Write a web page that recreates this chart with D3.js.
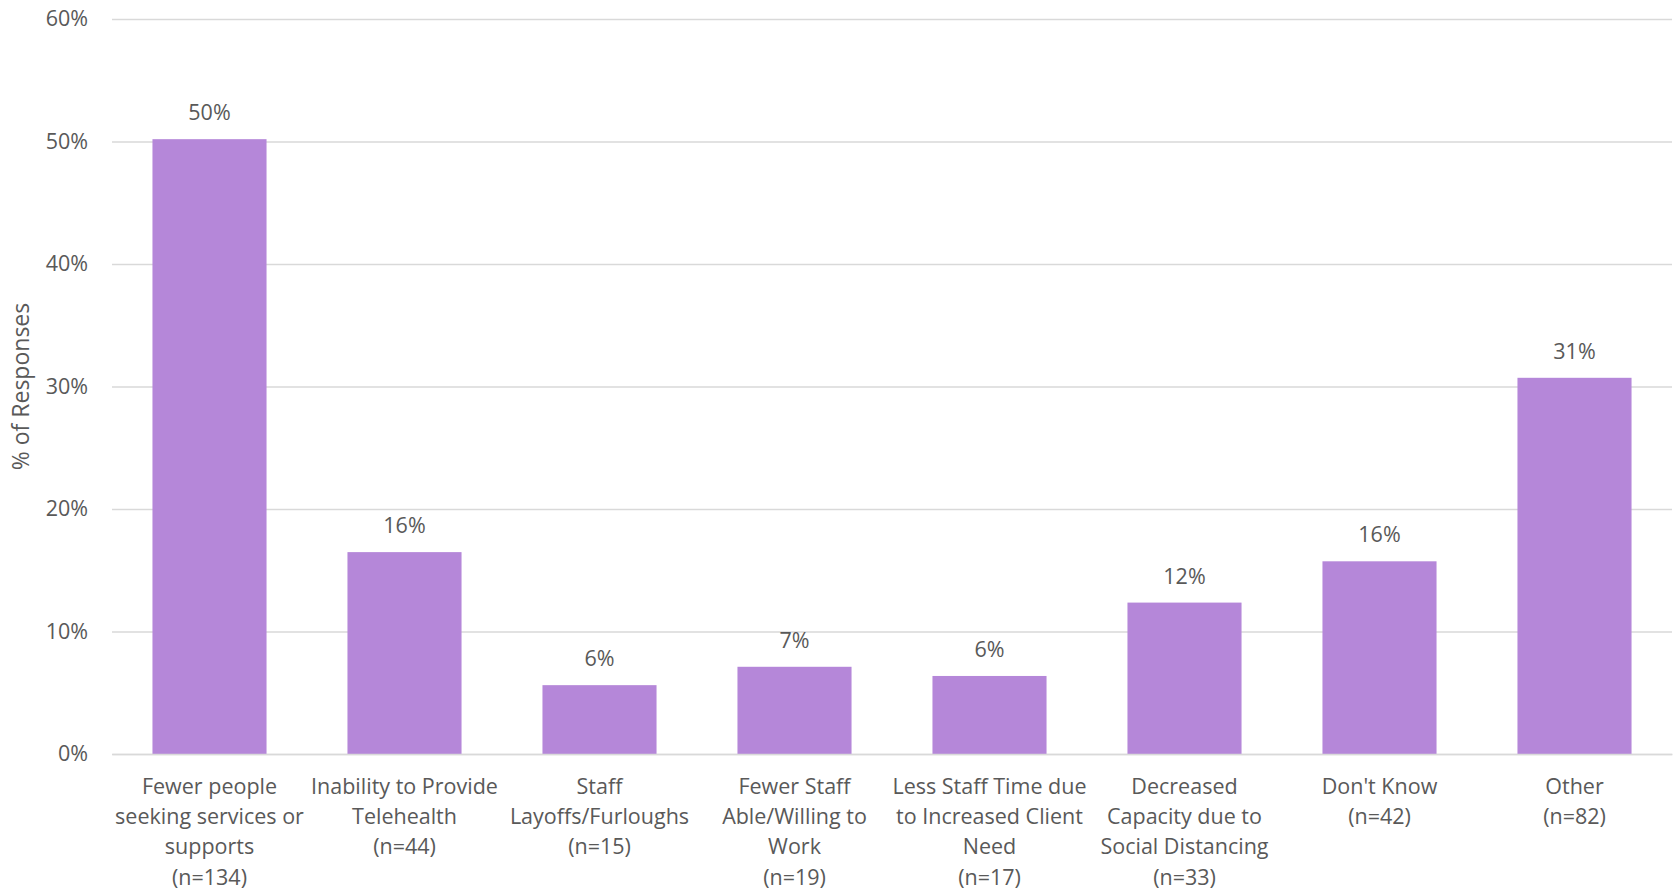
<!DOCTYPE html>
<html>
<head>
<meta charset="utf-8">
<script src="https://cdn.jsdelivr.net/npm/d3@7"></script>
<style>
  html, body { margin: 0; padding: 0; background: #fff; }
  svg text { font-family: "Open Sans", Lato, sans-serif; fill: #595959; }
</style>
</head>
<body>
<svg id="chart" width="1675" height="891"></svg>
<script>
// Reasons given for reduced service volume, share of all responses
const categories = [
  ["Fewer people", "seeking services or", "supports", "(n=134)"],
  ["Inability to Provide", "Telehealth", "(n=44)"],
  ["Staff", "Layoffs/Furloughs", "(n=15)"],
  ["Fewer Staff", "Able/Willing to", "Work", "(n=19)"],
  ["Less Staff Time due", "to Increased Client", "Need", "(n=17)"],
  ["Decreased", "Capacity due to", "Social Distancing", "(n=33)"],
  ["Don't Know", "(n=42)"],
  ["Other", "(n=82)"]
];
const values = [0.5019, 0.1648, 0.0562, 0.0712, 0.0637, 0.1236, 0.1573, 0.3071];
const yTicks = [0, 0.1, 0.2, 0.3, 0.4, 0.5, 0.6];

const svg = d3.select("#chart");
const margin = { left: 112, right: 3, top: 19, bottom: 137 };
const width = 1675, height = 891;
const fontSize = 21.5;

const x = d3.scaleBand()
  .domain(d3.range(categories.length))
  .range([margin.left, width - margin.right])
  .paddingInner(0.415)
  .paddingOuter(0.2075);

const y = d3.scaleLinear()
  .domain([0, 0.6])
  .range([height - margin.bottom, margin.top]);

const pct = d3.format(".0%");

// Horizontal gridlines + tick labels
const yAxis = d3.axisLeft(y)
  .tickValues(yTicks)
  .tickFormat(pct)
  .tickSize(-(width - margin.right - margin.left))
  .tickPadding(24);

const gy = svg.append("g")
  .attr("transform", `translate(${margin.left},0)`)
  .call(yAxis);
gy.select(".domain").remove();
gy.selectAll(".tick line").attr("stroke", "#d9d9d9").attr("stroke-width", 1.5);
gy.selectAll(".tick text")
  .attr("font-size", fontSize)
  .style("font-family", "'Open Sans', Lato, sans-serif")
  .attr("fill", "#595959");

// Bars
svg.append("g").selectAll("rect")
  .data(values)
  .join("rect")
  .attr("x", (d, i) => x(i))
  .attr("y", d => y(d))
  .attr("width", x.bandwidth())
  .attr("height", d => y(0) - y(d))
  .attr("fill", "#b587d9");

// Value labels above bars
svg.append("g").selectAll("text")
  .data(values)
  .join("text")
  .attr("x", (d, i) => x(i) + x.bandwidth() / 2)
  .attr("y", d => y(d) - 19)
  .attr("text-anchor", "middle")
  .attr("font-size", fontSize)
  .text(d => pct(d));

// Category labels, wrapped over several lines
const xAxis = d3.axisBottom(x).tickSize(0).tickFormat("");
const gx = svg.append("g")
  .attr("transform", `translate(0,${y(0)})`)
  .call(xAxis);
gx.select(".domain").attr("stroke", "#d9d9d9").attr("stroke-width", 1.5);

const lbl = svg.append("g").selectAll("text")
  .data(categories)
  .join("text")
  .attr("x", (d, i) => x(i) + x.bandwidth() / 2)
  .attr("y", y(0) + 40)
  .attr("text-anchor", "middle")
  .attr("font-size", fontSize);
lbl.selectAll("tspan")
  .data(d => d)
  .join("tspan")
  .attr("x", function () { return d3.select(this.parentNode).attr("x"); })
  .attr("dy", (d, i) => i === 0 ? 0 : 30.2)
  .text(d => d);

// Y axis title
svg.append("text")
  .attr("transform", `translate(29,${(y(0) + y(0.6)) / 2}) rotate(-90)`)
  .attr("text-anchor", "middle")
  .attr("font-size", 23)
  .text("% of Responses");
</script>
</body>
</html>
